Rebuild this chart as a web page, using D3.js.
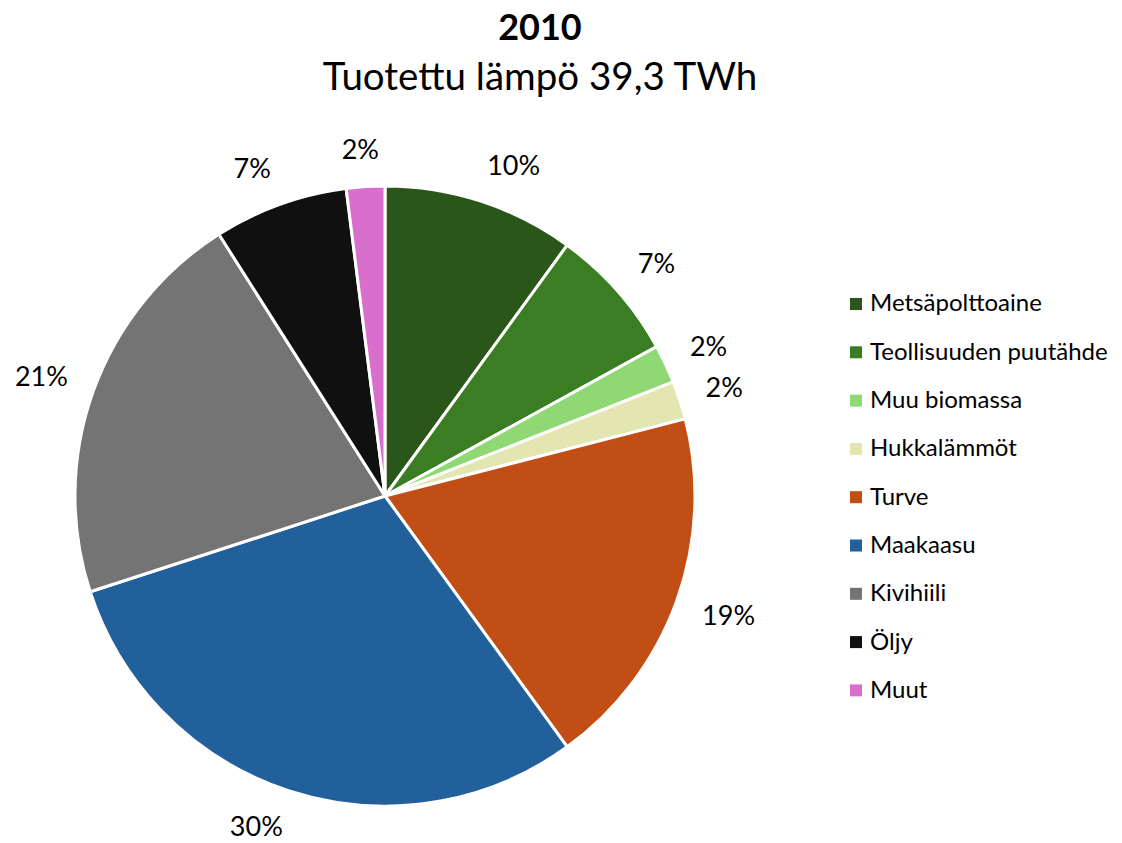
<!DOCTYPE html>
<html>
<head>
  <meta charset="utf-8">
  <title>2010 Tuotettu lämpö</title>
  <script src="https://d3js.org/d3.v7.min.js"></script>
  <style>
    body { margin: 0; background: #fff; }
    text { font-family: Lato, "Open Sans", sans-serif; fill: #000; }
  </style>
</head>
<body>
  <svg id="chart" width="1122" height="843"></svg>

  <script>
    const categories = ["Metsäpolttoaine", "Teollisuuden puutähde", "Muu biomassa", "Hukkalämmöt",
      "Turve", "Maakaasu", "Kivihiili", "Öljy", "Muut"];
    const values = [10, 7, 2, 2, 19, 30, 21, 7, 2];
    const colors = ["#2a5719", "#3b7d23", "#8fd873", "#e3e6b0", "#c14f15", "#22609b", "#747474", "#101010", "#d96fcd"];

    const width = 1122;
    const height = 843;
    const cx = 385, cy = 496;
    const radius = 310;

    const svg = d3.select("#chart");

    // titulos
    svg.append("text")
      .attr("x", 540).attr("y", 40)
      .attr("text-anchor", "middle")
      .style("font-size", "36px")
      .style("font-weight", "bold")
      .text("2010");

    svg.append("text")
      .attr("x", 540).attr("y", 90)
      .attr("text-anchor", "middle")
      .style("font-size", "38.5px")
      .text("Tuotettu lämpö 39,3 TWh");

    const dados = categories.map((c, i) => ({ name: c, value: values[i], color: colors[i] }));

    const pie = d3.pie().value(d => d.value).sort(null);
    const arc = d3.arc().innerRadius(0).outerRadius(radius);
    const labelR = radius + 27;

    const g = svg.append("g").attr("transform", `translate(${cx},${cy})`);

    const setor = g.selectAll(".setor")
      .data(pie(dados))
      .enter().append("g")
      .attr("class", "setor");

    setor.append("path")
      .attr("d", arc)
      .attr("fill", d => d.data.color)
      .attr("stroke", "#fff")
      .attr("stroke-width", 3)
      .attr("stroke-linejoin", "round");

    // rotulos fora da fatia: o canto mais proximo da caixa encosta no ponto
    const clamp = v => Math.max(-1, Math.min(1, v));
    setor.append("text")
      .attr("text-anchor", "middle")
      .attr("dy", "0.35em")
      .style("font-size", "27px")
      .text(d => d.data.value + "%")
      .attr("transform", function (d) {
        const a = (d.startAngle + d.endAngle) / 2;
        const bb = this.getBBox();
        const sx = Math.sin(a), cy_ = -Math.cos(a);
        const x = labelR * sx + clamp(sx * 3) * bb.width / 2;
        const y = labelR * cy_ + clamp(cy_ * 1.5) * 10;
        return `translate(${x},${y})`;
      });

    // legenda
    const legenda = svg.append("g").attr("transform", "translate(850,303)");
    const item = legenda.selectAll("g")
      .data(dados)
      .enter().append("g")
      .attr("transform", (_, i) => `translate(0,${i * 48.3})`);

    item.append("rect")
      .attr("x", 0).attr("y", -5)
      .attr("width", 12).attr("height", 12)
      .attr("fill", d => d.color);

    item.append("text")
      .attr("x", 20).attr("y", 0)
      .attr("dy", "0.35em")
      .style("font-size", "24px")
      .text(d => d.name);
  </script>
</body>
</html>
